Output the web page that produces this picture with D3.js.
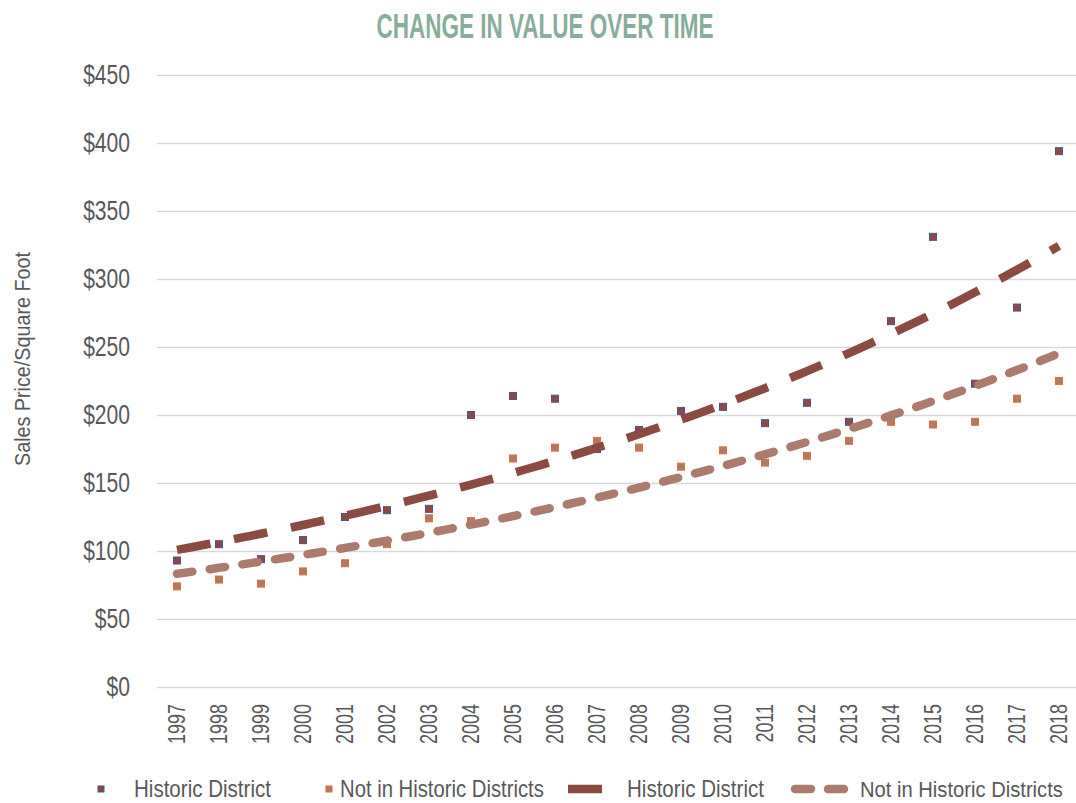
<!DOCTYPE html>
<html><head><meta charset="utf-8">
<script src="https://cdn.jsdelivr.net/npm/d3@7"></script>
<style>body{margin:0;background:#fff}svg{display:block}</style>
</head><body>
<svg id="c" width="1076" height="803"></svg>
<script>
const years = [1997,1998,1999,2000,2001,2002,2003,2004,2005,2006,2007,2008,2009,2010,2011,2012,2013,2014,2015,2016,2017,2018];
const historic = [93,105,94,108,125,130,131,200,214,212,175,189,203,206,194,209,195,269,331,223,279,394];
const notHistoric = [74,79,76,85,91,105,124,122,168,176,181,176,162,174,165,170,181,195,193,195,212,225];
const yTicks = [0,50,100,150,200,250,300,350,400,450];
const title = "CHANGE IN VALUE OVER TIME";
const yTitle = "Sales Price/Square Foot";
const legendLabels = ["Historic District","Not in Historic Districts","Historic District","Not in Historic Districts"];

const C = {hFill:"#8B4A42", hStroke:"#50508C", nFill:"#B07A68", nStroke:"#D8733A", tDark:"#8B4A42", tLight:"#AD7B6D", text:"#58585A", grid:"#D9D9D9", title:"#89AD9B"};
const FONT = "'Liberation Sans',Arial,sans-serif";

function condense(sel, f){
  sel.each(function(){
    const w = this.getComputedTextLength();
    d3.select(this).attr("textLength", w*f).attr("lengthAdjust","spacingAndGlyphs");
  });
}

const svg = d3.select("#c");
const x = d3.scaleBand().domain(years).range([156,1080]).padding(0);
const y = d3.scaleLinear().domain([0,450]).range([687,75]);
const cx = d => x(d) + x.bandwidth()/2;

// title
svg.append("text").attr("x",545).attr("y",38).attr("text-anchor","middle")
  .attr("font-family",FONT).attr("font-size",35).attr("font-weight","bold").attr("fill",C.title)
  .attr("textLength",337).attr("lengthAdjust","spacingAndGlyphs").text(title);

// grid
const yAxis = d3.axisLeft(y).tickValues(yTicks).tickSize(-(1076-157)).tickFormat(d=>"$"+d);
const ga = svg.append("g").attr("transform","translate(157,0)").call(yAxis);
ga.select(".domain").remove();
ga.selectAll(".tick line").attr("stroke",C.grid).attr("stroke-width",1.6);
ga.selectAll(".tick text").attr("x",-27).attr("dy","0.3em").attr("fill",C.text).attr("font-family",FONT).attr("font-size",27);
condense(ga.selectAll(".tick text"),0.78);

// x axis labels
const xAxis = d3.axisBottom(x).tickSize(0);
const gx = svg.append("g").attr("transform","translate(0,687)").call(xAxis);
gx.select(".domain").remove();
gx.selectAll(".tick text").attr("fill",C.text).attr("font-family",FONT).attr("font-size",23)
  .attr("transform","rotate(-90)").attr("text-anchor","end").attr("x",-17).attr("y",0).attr("dy","0.36em");
condense(gx.selectAll(".tick text"),0.78);

// y title
svg.append("text").attr("transform","translate(22,359) rotate(-90)").attr("text-anchor","middle")
  .attr("dy","0.35em").attr("fill",C.text).attr("font-family",FONT).attr("font-size",22)
  .attr("textLength",214).attr("lengthAdjust","spacingAndGlyphs").text(yTitle);

// exponential trend from data (log-linear least squares)
function expFit(vals){
  const n=vals.length; const xs=d3.range(n); const ls=vals.map(Math.log);
  const mx=d3.mean(xs), ml=d3.mean(ls);
  const b=d3.sum(xs,(v,i)=>(v-mx)*(ls[i]-ml))/d3.sum(xs,v=>(v-mx)*(v-mx));
  const a=ml-b*mx;
  return t=>Math.exp(a+b*t);
}
const fH = expFit(historic), fN = expFit(notHistoric);
const samples = d3.range(0,21.001,0.25);
const line = f => d3.line().x(t=>cx(1997)+t*x.step()).y(t=>y(f(t)))(samples);

// markers
function markers(vals,fill,stroke){
  svg.append("g").selectAll("rect").data(vals).join("rect")
    .attr("x",(d,i)=>cx(years[i])-3.5).attr("y",d=>y(d)-3.5).attr("width",7).attr("height",7)
    .attr("fill",fill).attr("stroke",stroke).attr("stroke-width",1);
}
markers(historic,C.hFill,C.hStroke);
markers(notHistoric,C.nFill,C.nStroke);

svg.append("path").attr("d",line(fN)).attr("fill","none").attr("stroke",C.tLight)
  .attr("stroke-width",8.5).attr("stroke-linecap","round").attr("stroke-dasharray","15.5,17.5");
svg.append("path").attr("d",line(fH)).attr("fill","none").attr("stroke",C.tDark)
  .attr("stroke-width",8.5).attr("stroke-dasharray","34,24");

// legend
const lg = svg.append("g").attr("font-family",FONT).attr("font-size",23).attr("fill",C.text);
const ly = 789;
function legendText(x0, w, label){
  const g = lg.append("g");
  const t = g.append("text").attr("x",0).attr("y",0).attr("dy","0.36em").text(label);
  const nat = t.node().getComputedTextLength();
  g.attr("transform",`translate(${x0},${ly}) scale(${w/nat},1)`);
}
lg.append("rect").attr("x",98).attr("y",ly-3).attr("width",6).attr("height",6).attr("fill",C.hFill).attr("stroke",C.hStroke);
legendText(134,137,legendLabels[0]);
lg.append("rect").attr("x",326).attr("y",ly-3).attr("width",6).attr("height",6).attr("fill",C.nFill).attr("stroke",C.nStroke);
legendText(340,204,legendLabels[1]);
lg.append("line").attr("x1",568).attr("x2",602).attr("y1",ly).attr("y2",ly).attr("stroke",C.tDark).attr("stroke-width",8.5);
legendText(627,137,legendLabels[2]);
lg.append("line").attr("x1",795).attr("x2",845).attr("y1",ly).attr("y2",ly).attr("stroke",C.tLight)
  .attr("stroke-width",8.5).attr("stroke-linecap","round").attr("stroke-dasharray","16,17");
legendText(860,203,legendLabels[3]);
</script>
</body></html>
